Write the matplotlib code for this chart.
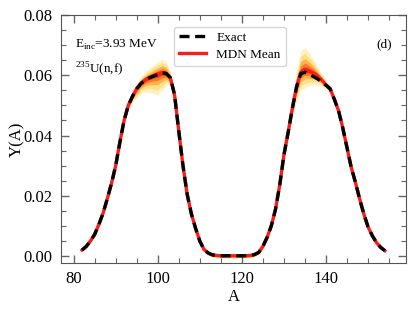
import numpy as np
import matplotlib
matplotlib.use('Agg')
import matplotlib.pyplot as plt
from matplotlib.ticker import MultipleLocator

plt.rcParams['font.family'] = ['Liberation Serif', 'DejaVu Serif']
plt.rcParams['mathtext.fontset'] = 'custom'
plt.rcParams['mathtext.rm'] = 'Liberation Serif'

# Mass number grid
A = np.arange(82, 155)

# Exact fission yield Y(A)
y_exact = [
    0.0020, 0.0032, 0.0050, 0.0072, 0.0105, 0.0142, 0.0190, 0.0241, 0.0300,
    0.0378, 0.0450, 0.0500, 0.0530, 0.0555, 0.0572, 0.0583, 0.0591, 0.0597,
    0.0602, 0.0608, 0.0606, 0.0592, 0.0535, 0.0415, 0.0300, 0.0205, 0.0140,
    0.0092, 0.0050, 0.0022, 0.0010, 0.0004, 0.0002, 0.0001, 0.0001, 0.0001,
    0.0001, 0.0001, 0.0001, 0.0001, 0.0002, 0.0005, 0.0012, 0.0032, 0.0062,
    0.0100, 0.0155, 0.0235, 0.0335, 0.0410, 0.0490, 0.0560, 0.0605, 0.0610,
    0.0603, 0.0596, 0.0588, 0.0578, 0.0567, 0.0555, 0.0520, 0.0482, 0.0425,
    0.0360, 0.0295, 0.0245, 0.0190, 0.0140, 0.0097, 0.0068, 0.0045, 0.0029,
    0.0018,
]

# MDN predicted mean
y_mdn = [
    0.0020, 0.0032, 0.0050, 0.0072, 0.0105, 0.0142, 0.0190, 0.0241, 0.0300,
    0.0378, 0.0450, 0.0500, 0.0530, 0.0556, 0.0574, 0.0585, 0.0593, 0.0599,
    0.0604, 0.0609, 0.0606, 0.0592, 0.0535, 0.0415, 0.0300, 0.0205, 0.0140,
    0.0092, 0.0050, 0.0022, 0.0010, 0.0004, 0.0002, 0.0001, 0.0001, 0.0001,
    0.0001, 0.0001, 0.0001, 0.0001, 0.0002, 0.0005, 0.0012, 0.0032, 0.0062,
    0.0100, 0.0155, 0.0235, 0.0335, 0.0410, 0.0490, 0.0562, 0.0610, 0.0618,
    0.0614, 0.0608, 0.0598, 0.0584, 0.0568, 0.0555, 0.0520, 0.0482, 0.0425,
    0.0360, 0.0295, 0.0245, 0.0190, 0.0140, 0.0097, 0.0068, 0.0045, 0.0029,
    0.0018,
]

# MDN sample spread above / below the mean
spread_up = [
    0.0003, 0.0003, 0.0003, 0.0003, 0.0003, 0.0003, 0.0003, 0.0008, 0.0008,
    0.0008, 0.0008, 0.0012, 0.0015, 0.0018, 0.0020, 0.0025, 0.0030, 0.0035,
    0.0040, 0.0045, 0.0040, 0.0020, 0.0010, 0.0008, 0.0005, 0.0005, 0.0005,
    0.0005, 0.0005, 0.0003, 0.0003, 0.0003, 0.0003, 0.0003, 0.0003, 0.0003,
    0.0003, 0.0003, 0.0003, 0.0003, 0.0003, 0.0003, 0.0003, 0.0006, 0.0006,
    0.0006, 0.0006, 0.0006, 0.0006, 0.0012, 0.0020, 0.0050, 0.0070, 0.0075,
    0.0060, 0.0045, 0.0030, 0.0020, 0.0015, 0.0012, 0.0012, 0.0012, 0.0012,
    0.0008, 0.0008, 0.0008, 0.0008, 0.0003, 0.0003, 0.0003, 0.0003, 0.0003,
    0.0003,
]
spread_dn = [
    0.0003, 0.0003, 0.0003, 0.0003, 0.0003, 0.0003, 0.0003, 0.0003, 0.0003,
    0.0010, 0.0012, 0.0015, 0.0020, 0.0030, 0.0035, 0.0040, 0.0050, 0.0060,
    0.0070, 0.0060, 0.0040, 0.0020, 0.0015, 0.0010, 0.0006, 0.0006, 0.0006,
    0.0006, 0.0006, 0.0008, 0.0008, 0.0008, 0.0008, 0.0008, 0.0008, 0.0008,
    0.0008, 0.0008, 0.0008, 0.0008, 0.0008, 0.0008, 0.0008, 0.0006, 0.0006,
    0.0006, 0.0006, 0.0006, 0.0010, 0.0015, 0.0030, 0.0050, 0.0060, 0.0060,
    0.0050, 0.0040, 0.0030, 0.0020, 0.0015, 0.0015, 0.0015, 0.0015, 0.0015,
    0.0010, 0.0010, 0.0010, 0.0010, 0.0004, 0.0004, 0.0004, 0.0004, 0.0004,
    0.0004,
]

mean = np.array(y_mdn)
up = np.array(spread_up)
dn = np.array(spread_dn)

fig = plt.figure(figsize=(4.15, 3.12), dpi=100)
ax = fig.add_axes([0.147, 0.157, 0.831, 0.795])

# density-like shading of MDN samples
layers = [(1.0, '#fff2bf'), (0.75, '#fee08b'), (0.5, '#fdb24c'),
          (0.3, '#f77b2a'), (0.15, '#e8401c')]
for frac, col in layers:
    ax.fill_between(A, mean - frac * dn, mean + frac * up,
                    color=col, lw=0, zorder=1)

ax.plot(A, y_mdn, color='#ff1a1a', lw=2.4, label='MDN Mean', zorder=2)
ax.plot(A, y_exact, color='black', lw=2.4, ls=(0, (3.0, 1.7)),
        label='Exact', zorder=3)

ax.set_xlim(77, 159)
ax.set_ylim(-0.0023, 0.08)
ax.xaxis.set_major_locator(MultipleLocator(20))
ax.xaxis.set_minor_locator(MultipleLocator(5))
ax.yaxis.set_major_locator(MultipleLocator(0.02))
ax.yaxis.set_minor_locator(MultipleLocator(0.005))
ax.yaxis.set_major_formatter(plt.FormatStrFormatter('%.2f'))
ax.tick_params(which='both', direction='in', top=True, right=True,
               color='#666666', labelsize=12)
ax.tick_params(which='major', length=6, width=1, pad=6)
ax.tick_params(which='minor', length=3.5, width=0.8)
for sp in ax.spines.values():
    sp.set_color('#555555')

ax.set_xlabel('A', fontsize=12, labelpad=1)
ax.set_ylabel('Y(A)', fontsize=12, labelpad=-1)

ax.text(0.04, 0.88, r'E$_{\rm inc}$=3.93 MeV', transform=ax.transAxes,
        fontsize=9.5, va='center')
ax.text(0.04, 0.78, r'$^{235}$U(n,f)', transform=ax.transAxes,
        fontsize=9.5, va='center')
ax.text(0.915, 0.88, '(d)', transform=ax.transAxes, fontsize=9.5,
        va='center')

h, l = ax.get_legend_handles_labels()
ax.legend(h[::-1], l[::-1], loc='upper center', bbox_to_anchor=(0.49, 0.98),
          fontsize=9.5, frameon=True, edgecolor='#cccccc', handlelength=2.0,
          borderpad=0.4, labelspacing=0.35)

fig.savefig('out.png', dpi=100)
